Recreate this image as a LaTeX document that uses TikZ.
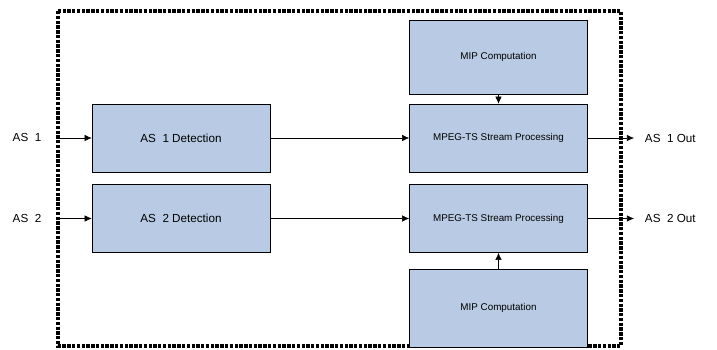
\documentclass[tikz,border=0pt]{standalone}
\usepackage{fontspec}
\setmainfont{Liberation Sans}
\usepackage{tikz}
\usetikzlibrary{arrows,arrows.meta}
\usetikzlibrary{shapes,positioning,calc}
\definecolor{boxblue}{RGB}{185,203,228}

\begin{document}
\begin{tikzpicture}[x=0.025cm, y=-0.025cm,
	block/.style={draw, fill=boxblue, minimum width=4.45cm, minimum height=1.7cm, inner sep=0pt},
	small/.style={font=\fontsize{7}{8}\selectfont},
	big/.style={font=\fontsize{8.3}{9}\selectfont},
	link/.style={-{Latex[length=5pt,width=4.5pt]}}]
\useasboundingbox (0,0) rectangle (717,349);

% Outer dashed frame around the processing stages
\draw[line width=2.2pt, dash pattern=on 2.4pt off 1pt] (58,11) rectangle (621,346);

% Detection stages on the left
\node[block, big] (det1) at (181,138) {AS\ \ 1 Detection};
\node[block, big] (det2) at (181,218.5) {AS\ \ 2 Detection};

% Stream processing and MIP computation on the right
\node[block, small] (mpeg1) at (498.5,138) {MPEG-TS Stream Processing};
\node[block, small] (mpeg2) at (498.5,218.5) {MPEG-TS Stream Processing};
\node[block, small, minimum height=1.85cm] (mip1) at (498.5,57) {MIP Computation};
\node[block, small, minimum height=1.95cm] (mip2) at (498.5,308) {MIP Computation};

% Inputs and outputs
\node[big] (in1) at (27,137) {AS\ \ 1};
\node[big] (in2) at (27,218) {AS\ \ 2};
\coordinate (b1) at (58,138);
\coordinate (b2) at (58,218.5);
\coordinate (o1) at (634,138);
\coordinate (o2) at (634,218.5);
\node[big, anchor=west] (out1) at (640,138) {AS\ \ 1 Out};
\node[big, anchor=west] (out2) at (640,218.5) {AS\ \ 2 Out};

\draw[link] (b1) -- (det1);
\draw[link] (b2) -- (det2);
\draw[link] (det1) -- (mpeg1);
\draw[link] (det2) -- (mpeg2);
\draw[link] (mip1) -- (mpeg1);
\draw[link] (mip2) -- (mpeg2);
\draw[link] (mpeg1) -- (o1);
\draw[link] (mpeg2) -- (o2);
\end{tikzpicture}
\end{document}
